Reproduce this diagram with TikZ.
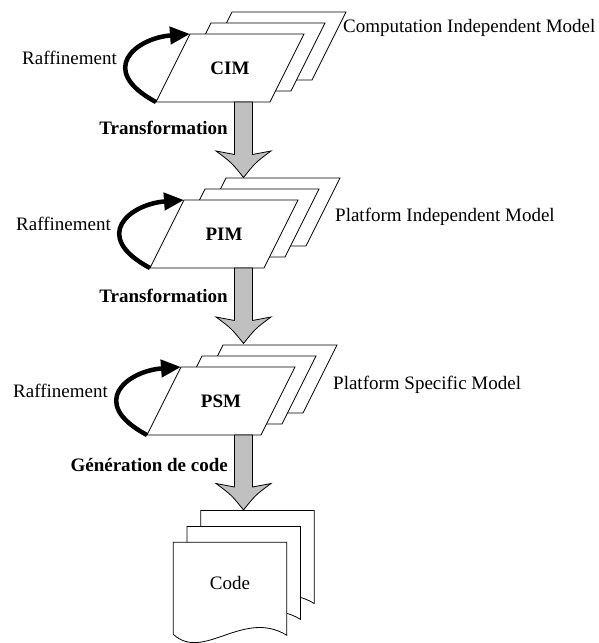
\documentclass[tikz,border=0pt]{standalone}
\usepackage{fontspec}
\setmainfont{Liberation Serif}
\usetikzlibrary{arrows.meta,calc}
\definecolor{arrowgray}{RGB}{192,192,192}
\tikzset{
  lbl/.style={font=\fontsize{19}{22}\selectfont, inner sep=0pt},
  blbl/.style={font=\fontsize{19}{22}\selectfont\bfseries, inner sep=0pt},
  sheet/.style={draw=black, fill=white, line width=0.8pt, line join=miter},
  blockarrow/.style={draw=black, fill=arrowgray, line width=0.8pt, line join=miter},
  refine/.style={line width=4.5pt, -{Triangle[length=20pt,width=17pt]}},
}
\newcommand\paralsheet[2]{%
  \draw[sheet] (#1,#2) -- ++(34,-68) -- ++(114,0) -- ++(-34,68) -- cycle;}
\newcommand\modelstack[4]{%
  \paralsheet{#2+42}{#3-22}
  \paralsheet{#2+21}{#3-11}
  \paralsheet{#2}{#3}
  \coordinate (#1B) at (#2,#3);
  \coordinate (#1T) at (#2+34,#3-68);
  \node[blbl] (#1) at (#2+74,#3-34) {#4};
  \node[lbl, anchor=east] (#1r) at (#2-39,#3-44) {Raffinement};
  \draw[refine] (#1B) .. controls ($(#1B)+(-60,-32)$) and ($(#1B)+(-20,-64)$) .. (#1T);
}
\newcommand\blockarr[2]{%
  \draw[blockarrow] ($(#1)+(-9,0)$) -- ($(#2)+(-9,-23)$) -- ($(#2)+(-27.5,-26.5)$)
    .. controls ($(#2)+(-12,-15)$) .. (#2)
    .. controls ($(#2)+(12,-15)$) .. ($(#2)+(27.5,-26.5)$)
    -- ($(#2)+(9,-23)$) -- ($(#1)+(9,0)$) -- cycle;}
\newcommand\docsheet[2]{%
  \draw[sheet] (#1,#2) -- (#1,#2+92)
    .. controls (#1+30,#2+120) and (#1+70,#2+66) .. (#1+113.5,#2+93)
    -- (#1+113.5,#2) -- cycle;}
\begin{document}
\begin{tikzpicture}[x=1pt,y=-1pt]
\useasboundingbox (0,0) rectangle (598,643);
% model stacks
\modelstack{cim}{156}{102}{CIM}
\modelstack{pim}{150}{268}{PIM}
\modelstack{psm}{147}{435}{PSM}
% documents
\docsheet{200.7}{510.5}
\docsheet{187}{526.4}
\docsheet{173.3}{542.3}
\node[lbl] (code) at (230,583) {Code};
% arrow anchors
\coordinate (a1s) at (243.5,102);
\coordinate (a1t) at (243.5,177.5);
\coordinate (a2s) at (243.5,268);
\coordinate (a2t) at (243.5,343.5);
\coordinate (a3s) at (243.5,435);
\coordinate (a3t) at (243.5,510);
\blockarr{a1s}{a1t}
\blockarr{a2s}{a2t}
\blockarr{a3s}{a3t}
% labels
\node[blbl, anchor=east] (t1) at (228,128) {Transformation};
\node[blbl, anchor=east] (t2) at (228,296) {Transformation};
\node[blbl, anchor=east] (t3) at (228,465) {Génération de code};
\node[lbl, anchor=west] (cimlbl) at (343,28) {Computation Independent Model};
\node[lbl, anchor=west] (pimlbl) at (335,217) {Platform Independent Model};
\node[lbl, anchor=west] (psmlbl) at (333,385) {Platform Specific Model};
\end{tikzpicture}
\end{document}
